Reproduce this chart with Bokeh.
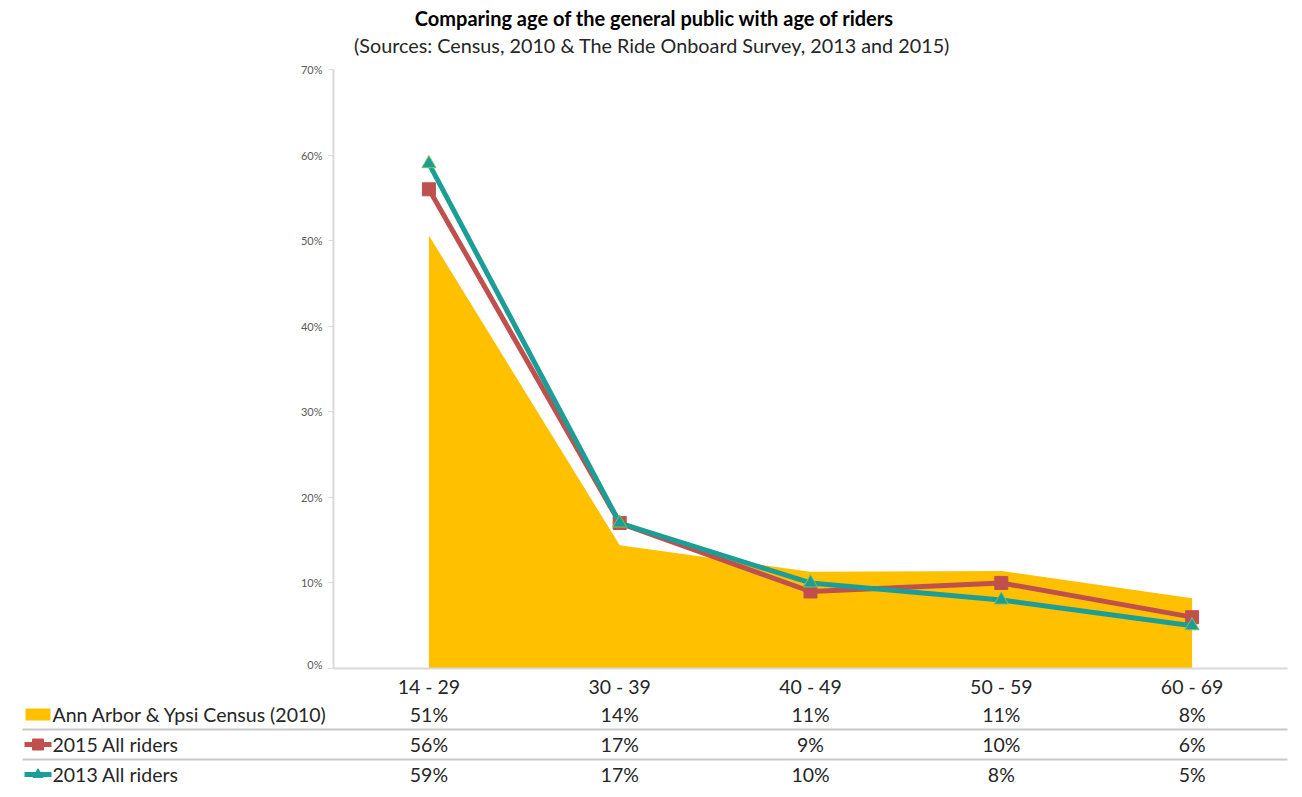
from bokeh.plotting import figure
from bokeh.layouts import column
from bokeh.models import Range1d, FixedTicker, PrintfTickFormatter
from bokeh.core.properties import value
from bokeh.embed import file_html
from bokeh.resources import INLINE

# ---- data ----
categories = ["14 - 29", "30 - 39", "40 - 49", "50 - 59", "60 - 69"]
census_2010 = [50.6, 14.4, 11.3, 11.4, 8.2]
riders_2015 = [56, 17, 9, 10, 6]
riders_2013 = [59, 17, 10, 8, 5]
series_names = ["Ann Arbor & Ypsi Census (2010)", "2015 All riders", "2013 All riders"]
y_ticks = [0, 10, 20, 30, 40, 50, 60, 70]
title_text = "Comparing age of the general public with age of riders"
subtitle_text = "(Sources: Census, 2010 & The Ride Onboard Survey,  2013 and 2015)"

YELLOW = "#FFC000"
RED = "#C0504D"
TEAL = "#1C9E97"
FONT = "Lato"
TXT = "#262626"
FS = "19.5px"

W = 1302
FRAME_L, FRAME_R = 333, 1287
px_per_unit = (FRAME_R - FRAME_L) / 5.0
xs = list(range(len(categories)))

# ---- title figure ----
TITLE_H = 62
t = figure(width=W, height=TITLE_H, x_range=Range1d(0, W), y_range=Range1d(TITLE_H, 0),
           output_backend="svg", toolbar_location=None, x_axis_type=None, y_axis_type=None,
           min_border=0, outline_line_color=None, frame_align=False)
t.text(x=[654], y=[17], text=[title_text], text_align="center", text_baseline="middle",
       text_font=value(FONT), text_font_style="bold", text_font_size="20px", text_color="#000000")
t.text(x=[654], y=[44], text=[subtitle_text], text_align="center", text_baseline="middle",
       text_font=value(FONT), text_font_size="19.8px", text_color=TXT)

# ---- main chart ----
MAIN_H = 608
p = figure(width=W, height=MAIN_H, x_range=Range1d(-0.5, 4.5), y_range=Range1d(0, 70),
           output_backend="svg", toolbar_location=None,
           min_border_left=FRAME_L, min_border_right=W - FRAME_R, min_border_top=7,
           min_border_bottom=2, outline_line_color=None, frame_align=False)
p.xgrid.visible = False
p.ygrid.visible = False

p.varea(x=xs, y1=[0] * len(xs), y2=census_2010, fill_color=YELLOW)
p.line(xs, riders_2015, line_color=RED, line_width=5)
p.scatter(xs, riders_2015, marker="square", size=13, fill_color=RED, line_color=RED)
p.line(xs, riders_2013, line_color=TEAL, line_width=5)
p.scatter(xs, riders_2013, marker="triangle", size=14, fill_color=TEAL, line_color="#7FBF5F", line_width=1)

p.xaxis.ticker = FixedTicker(ticks=[])
p.xaxis.major_tick_line_color = None
p.xaxis.minor_tick_line_color = None
p.xaxis.major_label_text_font_size = "0px"
p.xaxis.major_label_standoff = 0
p.xaxis.axis_line_color = "#D9D9D9"
p.xaxis.axis_line_width = 2

p.yaxis.ticker = FixedTicker(ticks=y_ticks)
p.yaxis.formatter = PrintfTickFormatter(format="%d%%")
p.yaxis.minor_tick_line_color = None
p.yaxis.major_tick_in = 0
p.yaxis.major_tick_out = 5
p.yaxis.major_tick_line_color = "#D9D9D9"
p.yaxis.axis_line_color = "#D9D9D9"
p.yaxis.axis_line_width = 2
p.yaxis.major_label_text_font = FONT
p.yaxis.major_label_text_font_size = "11px"
p.yaxis.major_label_text_color = "#595959"
p.yaxis.major_label_standoff = 6

# ---- category labels + data table with legend ----
x0 = -0.5 - FRAME_L / px_per_unit
x1 = 4.5 + (W - FRAME_R) / px_per_unit
H = 797 - TITLE_H - MAIN_H
row_px = 30.0
top = 44 / row_px
tb = figure(width=W, height=H, x_range=Range1d(x0, x1), y_range=Range1d(top - H / row_px, top),
            output_backend="svg", toolbar_location=None, x_axis_type=None, y_axis_type=None,
            min_border=0, outline_line_color=None, frame_align=False)

def px(v):
    return x0 + v / px_per_unit

# category axis labels
tb.text(x=xs, y=[28 / row_px] * len(xs), text=categories, text_align="center",
        text_baseline="middle", text_font=value(FONT), text_font_size=FS, text_color=TXT)

rows = [census_2010, riders_2015, riders_2013]
for r, vals in enumerate(rows):
    tb.text(x=xs, y=[-r] * len(xs), text=[f"{round(v)}%" for v in vals], text_align="center",
            text_baseline="middle", text_font=value(FONT), text_font_size=FS, text_color=TXT)
    tb.text(x=[px(52)], y=[-r], text=[series_names[r]], text_align="left", text_baseline="middle",
            text_font=value(FONT), text_font_size=FS, text_color=TXT)

# separators
tb.segment(x0=[px(22)] * 2, y0=[-0.5, -1.5], x1=[4.5] * 2, y1=[-0.5, -1.5],
           line_color="#C8C8C8", line_width=2)

# legend keys
tb.quad(left=[px(25)], right=[px(50)], bottom=[-0.2], top=[0.2], fill_color=YELLOW, line_color=None)
tb.segment(x0=[px(24)], y0=[-1], x1=[px(51)], y1=[-1], line_color=RED, line_width=5)
tb.scatter([px(37.5)], [-1], marker="square", size=11, fill_color=RED, line_color=RED)
tb.segment(x0=[px(24)], y0=[-2], x1=[px(51)], y1=[-2], line_color=TEAL, line_width=5)
tb.scatter([px(37.5)], [-2], marker="triangle", size=10, fill_color=TEAL, line_color=TEAL)

layout = column(t, p, tb, spacing=0)
open("out.html", "w").write(file_html(layout, INLINE))
